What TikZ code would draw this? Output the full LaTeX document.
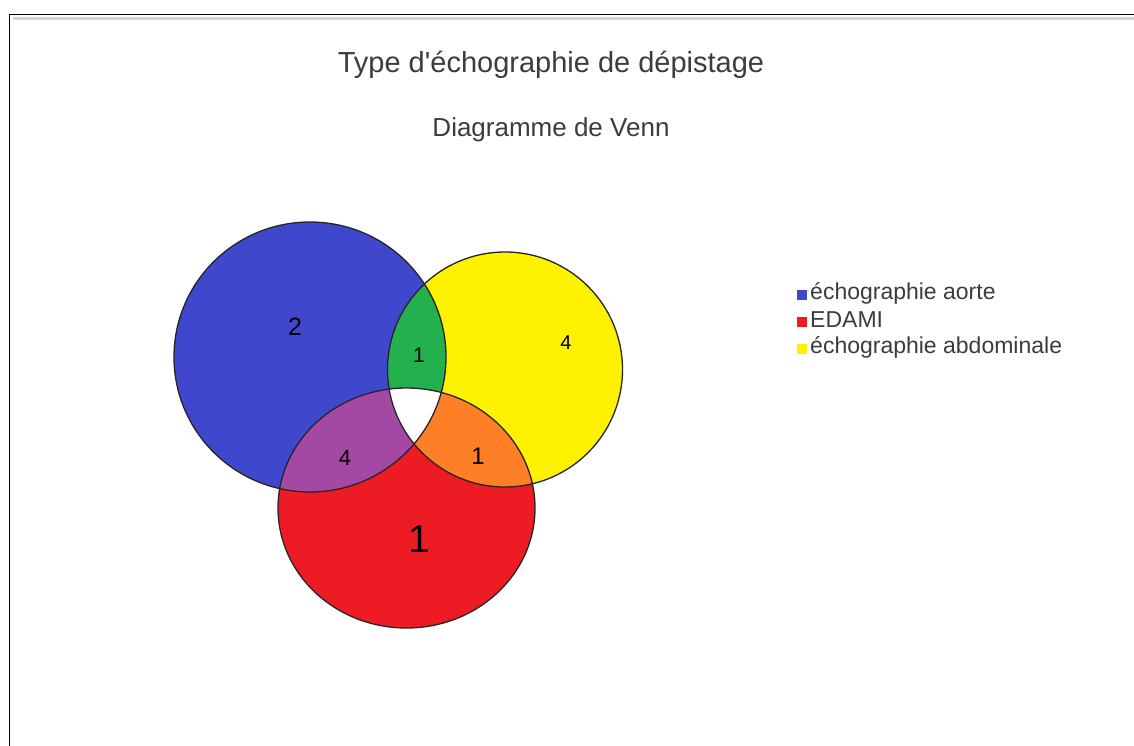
\documentclass[tikz,border=0pt]{standalone}
\usepackage{fontspec}
\setmainfont{Liberation Sans}
\definecolor{cblue}{RGB}{63,72,204}
\definecolor{cyellow}{RGB}{255,242,0}
\definecolor{cred}{RGB}{237,28,36}
\definecolor{cgreen}{RGB}{34,177,76}
\definecolor{cpurple}{RGB}{163,73,164}
\definecolor{corange}{RGB}{255,127,39}
\definecolor{tgray}{RGB}{60,60,60}
\definecolor{outl}{RGB}{40,35,40}
\begin{document}
\begin{tikzpicture}[x=1pt,y=-1pt,
  title/.style={text=tgray,inner sep=0pt,font=\fontsize{29}{34}\selectfont},
  subtitle/.style={text=tgray,inner sep=0pt,font=\fontsize{26}{30}\selectfont},
  legtext/.style={text=tgray,anchor=west,inner sep=0pt,font=\fontsize{23}{26}\selectfont},
  legbox/.style={minimum size=10pt,inner sep=0pt},
  num/.style={text=black,inner sep=0pt},
  outline/.style={draw=outl,line width=1.3pt}]
\useasboundingbox (0,0) rectangle (1134,746);
\fill[white] (0,0) rectangle (1134,746);
% frame
\draw[gray!35,line width=3pt] (13,18.8) -- (1134,18.8);
\draw[line width=1.4pt] (9.5,746) -- (9.5,14.5) -- (1134,14.5);
% circles
\def\circA{(310,357) ellipse [x radius=136pt,y radius=135pt]}
\def\circB{(505,369.5) ellipse [x radius=117.5pt,y radius=117.5pt]}
\def\circC{(406.5,508) ellipse [x radius=128.5pt,y radius=120pt]}
\fill[cblue] \circA;
\fill[cyellow] \circB;
\fill[cred] \circC;
\begin{scope}
  \clip \circA;
  \fill[cgreen] \circB;
  \fill[cpurple] \circC;
\end{scope}
\begin{scope}
  \clip \circB;
  \fill[corange] \circC;
  \clip \circA;
  \fill[white] \circC;
\end{scope}
\draw[outline] \circA;
\draw[outline] \circB;
\draw[outline] \circC;
% numbers
\node[num,font=\fontsize{25}{25}\selectfont] (nA) at (295,327) {2};
\node[num,font=\fontsize{21}{21}\selectfont] (nAB) at (419,355) {1};
\node[num,font=\fontsize{20}{20}\selectfont] (nB) at (566,343) {4};
\node[num,font=\fontsize{22}{22}\selectfont] (nAC) at (345,458) {4};
\node[num,font=\fontsize{24}{24}\selectfont] (nBC) at (478,456) {1};
\node[num,font=\fontsize{39}{39}\selectfont] (nC) at (419,539) {1};
% titles
\node[title] (t) at (551,65) {Type d\textquotesingle échographie de dépistage};
\node[subtitle] (st) at (551,130) {Diagramme de Venn};
% legend
\node[legbox,fill=cblue] (l1) at (801.5,295) {};
\node[legbox,fill=cred] (l2) at (801.5,322) {};
\node[legbox,fill=cyellow] (l3) at (801.5,349) {};
\node[legtext] (lt1) at (810,293) {échographie aorte};
\node[legtext] (lt2) at (810,320) {EDAMI};
\node[legtext] (lt3) at (810,347) {échographie abdominale};
\end{tikzpicture}
\end{document}
